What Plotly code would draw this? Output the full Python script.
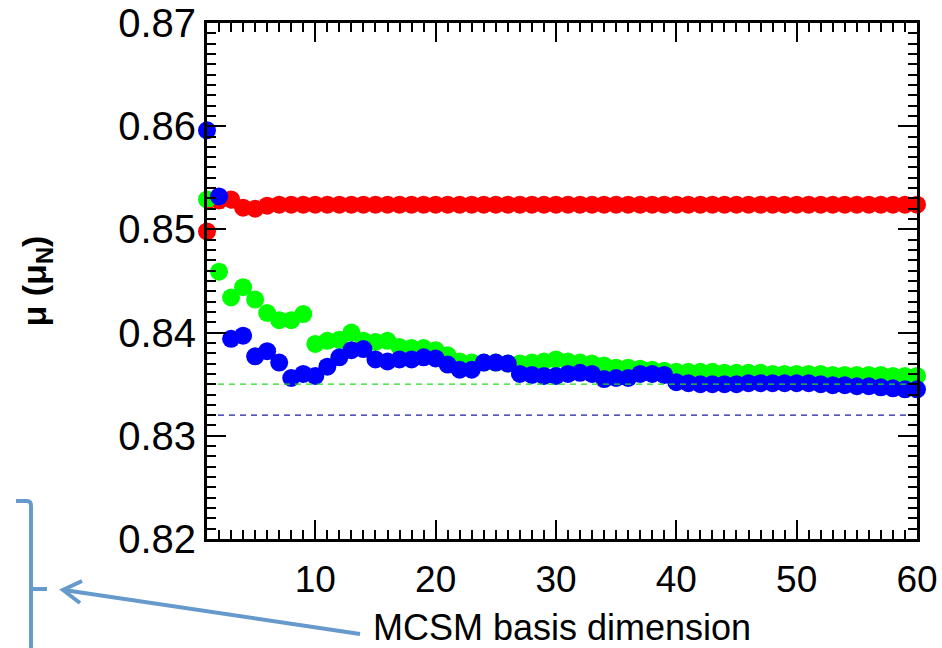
import plotly.graph_objects as go

# ---------------- data ----------------
basis_dim = list(range(1, 61))

mu_red = [0.8498, 0.8528, 0.8529, 0.8521, 0.8520, 0.8523, 0.8524, 0.8524, 0.8524, 0.8524,
          0.8524, 0.8524, 0.8524, 0.8524, 0.8524, 0.8524, 0.8524, 0.8524, 0.8524, 0.8524,
          0.8524, 0.8524, 0.8524, 0.8524, 0.8524, 0.8524, 0.8524, 0.8524, 0.8524, 0.8524,
          0.8524, 0.8524, 0.8524, 0.8524, 0.8524, 0.8524, 0.8524, 0.8524, 0.8524, 0.8524,
          0.8524, 0.8524, 0.8524, 0.8524, 0.8524, 0.8524, 0.8524, 0.8524, 0.8524, 0.8524,
          0.8524, 0.8524, 0.8524, 0.8524, 0.8524, 0.8524, 0.8524, 0.8524, 0.8524, 0.8524]

mu_green = [0.8529, 0.8459, 0.8434, 0.8444, 0.8432, 0.8419, 0.8412, 0.8412, 0.8418, 0.8389,
            0.8392, 0.8393, 0.8400, 0.8392, 0.8391, 0.8392, 0.8386, 0.8385, 0.8385, 0.8383,
            0.8378, 0.8372, 0.8371, 0.8371, 0.8371, 0.8370, 0.8370, 0.8371, 0.8372, 0.8374,
            0.8372, 0.8371, 0.8370, 0.8368, 0.8366, 0.8366, 0.8365, 0.8364, 0.8363, 0.8362,
            0.8362, 0.8362, 0.8362, 0.8361, 0.8361, 0.8361, 0.8361, 0.8360, 0.8360, 0.8360,
            0.8360, 0.8360, 0.8359, 0.8359, 0.8359, 0.8359, 0.8359, 0.8358, 0.8358, 0.8358]

mu_blue = [0.8596, 0.8532, 0.8394, 0.8397, 0.8377, 0.8382, 0.8371, 0.8356, 0.8360, 0.8358,
           0.8367, 0.8376, 0.8383, 0.8384, 0.8374, 0.8372, 0.8374, 0.8374, 0.8376, 0.8375,
           0.8369, 0.8364, 0.8364, 0.8371, 0.8371, 0.8370, 0.8360, 0.8359, 0.8358, 0.8358,
           0.8360, 0.8361, 0.8360, 0.8355, 0.8356, 0.8356, 0.8360, 0.8360, 0.8359, 0.8352,
           0.8351, 0.8350, 0.8350, 0.8350, 0.8350, 0.8351, 0.8351, 0.8351, 0.8351, 0.8351,
           0.8351, 0.8350, 0.8349, 0.8349, 0.8348, 0.8348, 0.8347, 0.8346, 0.8345, 0.8345]

ref_span = [1, 60]
ref_red = 0.8521
ref_green = 0.8350
ref_blue = 0.8320

y_ticks = [0.82, 0.83, 0.84, 0.85, 0.86, 0.87]
y_ticklabels = ["0.82", "0.83", "0.84", "0.85", "0.86", "0.87"]
x_ticks = [10, 20, 30, 40, 50, 60]

# ---------------- figure ----------------
W, H = 942, 648
L, R, T, B = 207, 25, 23, 109
PW, PH = W - L - R, H - T - B

def px(x):
    return (x - L) / PW

def py(y):
    return (H - B - y) / PH

FONT = "Liberation Sans, Arial, sans-serif"

fig = go.Figure()
for vals, col in [(mu_red, "#FF0000"), (mu_green, "#00FF00"), (mu_blue, "#0000FF")]:
    fig.add_trace(go.Scatter(x=basis_dim, y=vals, mode="markers",
                             marker=dict(size=18, color=col, line=dict(width=0)),
                             showlegend=False, cliponaxis=False))

for val, col in [(ref_red, "#FF0000"), (ref_green, "#22DD22"), (ref_blue, "#1C1CA8")]:
    fig.add_trace(go.Scatter(x=ref_span, y=[val, val], mode="lines",
                             line=dict(color=col, width=1.3, dash="6px,5px"),
                             showlegend=False))

axis_common = dict(
    showline=True, linecolor="black", linewidth=3, mirror="allticks",
    ticks="inside", ticklen=19, tickwidth=2, tickcolor="black",
    showgrid=False, zeroline=False, automargin=False,
)

fig.update_xaxes(
    range=[1, 60], tickvals=x_ticks,
    tickfont=dict(family=FONT, size=37, color="black"),
    ticklabelstandoff=6,
    minor=dict(dtick=1, tick0=0, ticks="inside", ticklen=9, tickwidth=1.5, tickcolor="black"),
    title=dict(text="MCSM basis dimension", font=dict(family=FONT, size=36, color="black"), standoff=24),
    **axis_common,
)
fig.update_yaxes(
    range=[0.82, 0.87], tickvals=y_ticks, ticktext=y_ticklabels,
    tickfont=dict(family=FONT, size=40, color="black"),
    minor=dict(dtick=0.001, tick0=0.82, ticks="inside", ticklen=9, tickwidth=1.5, tickcolor="black"),
    title=dict(text="<b>μ (μ<sub>N</sub>)</b>", font=dict(family=FONT, size=34, color="black"), standoff=62),
    **axis_common,
)

# bracket and arrow decoration (light blue)
BLUE_DECO = "#6699CC"
bracket = (f"M {px(16)},{py(501)} L {px(27)},{py(501)} Q {px(31)},{py(501)} {px(31)},{py(506)} "
           f"L {px(31)},{py(650)} M {px(31)},{py(589)} L {px(47)},{py(589)}")
fig.add_shape(type="path", path=bracket, xref="paper", yref="paper",
              line=dict(color=BLUE_DECO, width=4))
fig.add_shape(type="line", xref="paper", yref="paper",
              x0=px(360), y0=py(634), x1=px(64), y1=py(590),
              line=dict(color=BLUE_DECO, width=4))
head = (f"M {px(82)},{py(581)} L {px(63)},{py(590)} L {px(80)},{py(603)}")
fig.add_shape(type="path", path=head, xref="paper", yref="paper",
              line=dict(color=BLUE_DECO, width=4))

fig.update_layout(
    width=W, height=H,
    margin=dict(l=L, r=R, t=T, b=B, autoexpand=False),
    paper_bgcolor="white", plot_bgcolor="white",
    font=dict(family=FONT, color="black"),
)

fig.write_html("out.html")
